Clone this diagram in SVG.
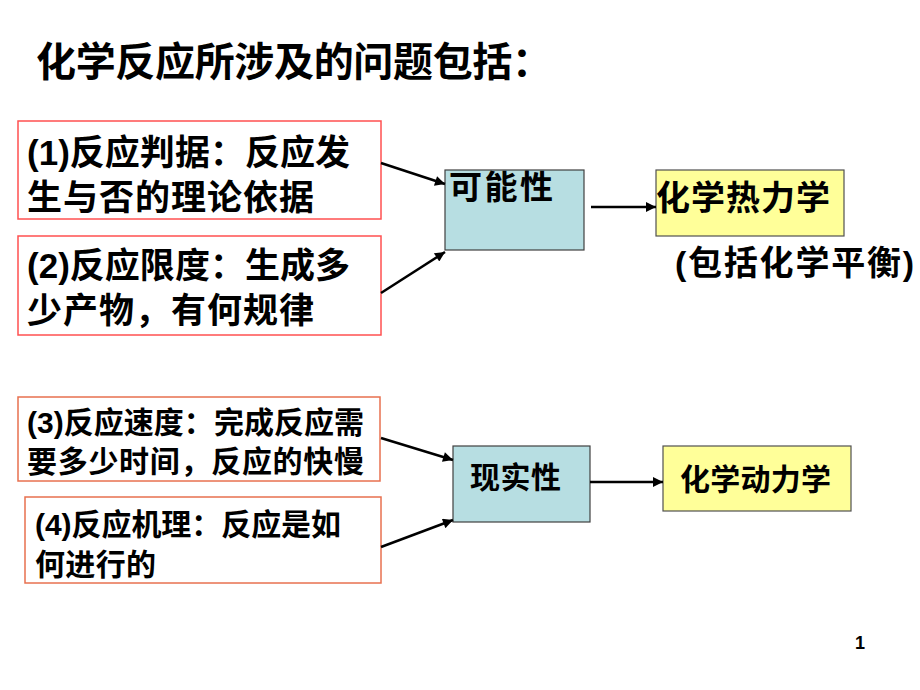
<svg xmlns="http://www.w3.org/2000/svg" width="920" height="690" viewBox="0 0 920 690">
<style>
text{font-family:"Liberation Sans","Noto Sans CJK SC",sans-serif;font-weight:bold;fill:#000}
.red{fill:#fff;stroke:#ff5050;stroke-width:1.5}
.org{fill:#fff;stroke:#e8704f;stroke-width:1.5}
.cyan{fill:#b7dee2;stroke:#404040;stroke-width:1.2}
.yel{fill:#ffff99;stroke:#505050;stroke-width:1.2}
.con{stroke:#000;stroke-width:2.5;fill:none;marker-end:url(#ah)}
</style>
<defs>
<marker id="ah" viewBox="0 0 10 10" refX="10" refY="5" markerWidth="5" markerHeight="4" orient="auto" markerUnits="strokeWidth">
<path d="M0,0 L10,5 L0,10 z" fill="#000"/>
</marker>
</defs>
<rect width="920" height="690" fill="#fff"/>
<text x="36" y="76" font-size="40" textLength="516" lengthAdjust="spacing">化学反应所涉及的问题包括：</text>
<g id="n1">
<rect class="red" x="18" y="121" width="363" height="98"/>
<text x="27" y="165" font-size="35" textLength="323" lengthAdjust="spacing">(1)反应判据：反应发</text>
<text x="27" y="210" font-size="35" textLength="287" lengthAdjust="spacing">生与否的理论依据</text>
</g>
<g id="n2">
<rect class="red" x="18" y="236" width="363" height="99"/>
<text x="27" y="278" font-size="35" textLength="323" lengthAdjust="spacing">(2)反应限度：生成多</text>
<text x="27" y="323" font-size="35" textLength="287" lengthAdjust="spacing">少产物，有何规律</text>
</g>
<g id="n3">
<rect class="cyan" x="445" y="170" width="139" height="80"/>
<text x="449" y="199" font-size="33" textLength="104" lengthAdjust="spacing">可能性</text>
</g>
<g id="n4">
<rect class="yel" x="656" y="170" width="188" height="66"/>
<text x="656" y="210" font-size="34" textLength="174" lengthAdjust="spacing">化学热力学</text>
</g>
<g id="n5">
<text x="675" y="275" font-size="34" textLength="239" lengthAdjust="spacing">(包括化学平衡)</text>
</g>
<g id="n6">
<rect class="org" x="18" y="397" width="362" height="84"/>
<text x="27" y="433" font-size="30" textLength="337" lengthAdjust="spacing">(3)反应速度：完成反应需</text>
<text x="27" y="472" font-size="30" textLength="337" lengthAdjust="spacing">要多少时间，反应的快慢</text>
</g>
<g id="n7">
<rect class="org" x="25" y="497" width="356" height="86"/>
<text x="35" y="535" font-size="30" textLength="306" lengthAdjust="spacing">(4)反应机理：反应是如</text>
<text x="35" y="575" font-size="30" textLength="121" lengthAdjust="spacing">何进行的</text>
</g>
<g id="n8">
<rect class="cyan" x="453" y="446" width="137" height="76"/>
<text x="470" y="488" font-size="30" textLength="91" lengthAdjust="spacing">现实性</text>
</g>
<g id="n9">
<rect class="yel" x="663" y="446" width="188" height="65"/>
<text x="680" y="490" font-size="30" textLength="151" lengthAdjust="spacing">化学动力学</text>
</g>
<g id="connectors">
<line class="con" x1="381" y1="163" x2="445" y2="184"/>
<line class="con" x1="381" y1="293" x2="445" y2="252"/>
<line class="con" x1="591" y1="207" x2="656" y2="207"/>
<line class="con" x1="381" y1="438" x2="453" y2="460"/>
<line class="con" x1="381" y1="547" x2="453" y2="520"/>
<line class="con" x1="590" y1="482" x2="663" y2="482"/>
</g>
<text x="855" y="649" font-size="18" font-weight="normal">1</text>
</svg>
